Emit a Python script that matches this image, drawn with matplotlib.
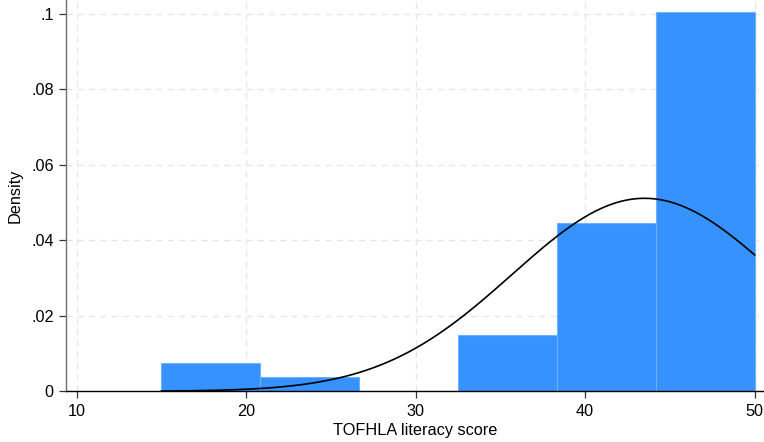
import numpy as np
import matplotlib
matplotlib.use("Agg")
import matplotlib.pyplot as plt

plt.rcParams["font.family"] = ["Liberation Sans", "DejaVu Sans"]

# histogram of TOFHLA literacy score (6 bins from 15 to 50)
bin_edges = [15.0, 20.8333, 26.6667, 32.5, 38.3333, 44.1667, 50.0]
counts = [2, 1, 0, 4, 12, 27]
n_obs = 46

# normal overlay parameters
score_mean = 43.5
score_sd = 7.8

x_ticks = [10, 20, 30, 40, 50]
y_ticks = [0, 0.02, 0.04, 0.06, 0.08, 0.1]
y_tick_labels = ["0", ".02", ".04", ".06", ".08", ".1"]

fig = plt.figure(figsize=(7.64, 4.42), dpi=100)
ax = fig.add_axes([66.3 / 764, 1 - 391.3 / 442, 1 - 66.3 / 764, 391.3 / 442])

widths = np.diff(bin_edges)
heights = np.array(counts) / (n_obs * widths)
ax.bar(bin_edges[:-1], heights, width=widths, align="edge",
       color="#3592ff", edgecolor="#6fb0ff", linewidth=0.8, zorder=2)

xs = np.linspace(bin_edges[0], bin_edges[-1], 300)
dens = np.exp(-0.5 * ((xs - score_mean) / score_sd) ** 2) / (score_sd * np.sqrt(2 * np.pi))
ax.plot(xs, dens, color="black", linewidth=1.2, zorder=3)

ax.set_xlim(9.386, 50.55)
ax.set_ylim(0, 0.1037)
ax.set_xticks(x_ticks)
ax.set_yticks(y_ticks)
ax.set_yticklabels(y_tick_labels)
ax.grid(True, color="#e6e6e6", linestyle=(0, (5, 4)), linewidth=0.9, zorder=0)
ax.set_axisbelow(True)

for side in ["top", "right"]:
    ax.spines[side].set_visible(False)
ax.spines["left"].set_color("#6e6e6e")
ax.spines["left"].set_linewidth(1.0)
ax.spines["bottom"].set_color("black")
ax.spines["bottom"].set_linewidth(1.0)
ax.spines["bottom"].set_zorder(4)
ax.tick_params(axis="both", direction="out", length=5, width=0.9, labelsize=11.7, color="#333333")
ax.tick_params(axis="y", pad=4)
ax.tick_params(axis="x", pad=4)

ax.set_xlabel("TOFHLA literacy score", fontsize=11.7, labelpad=3)
ax.set_ylabel("Density", fontsize=11.7, labelpad=6)

fig.savefig("out.png", dpi=100)
